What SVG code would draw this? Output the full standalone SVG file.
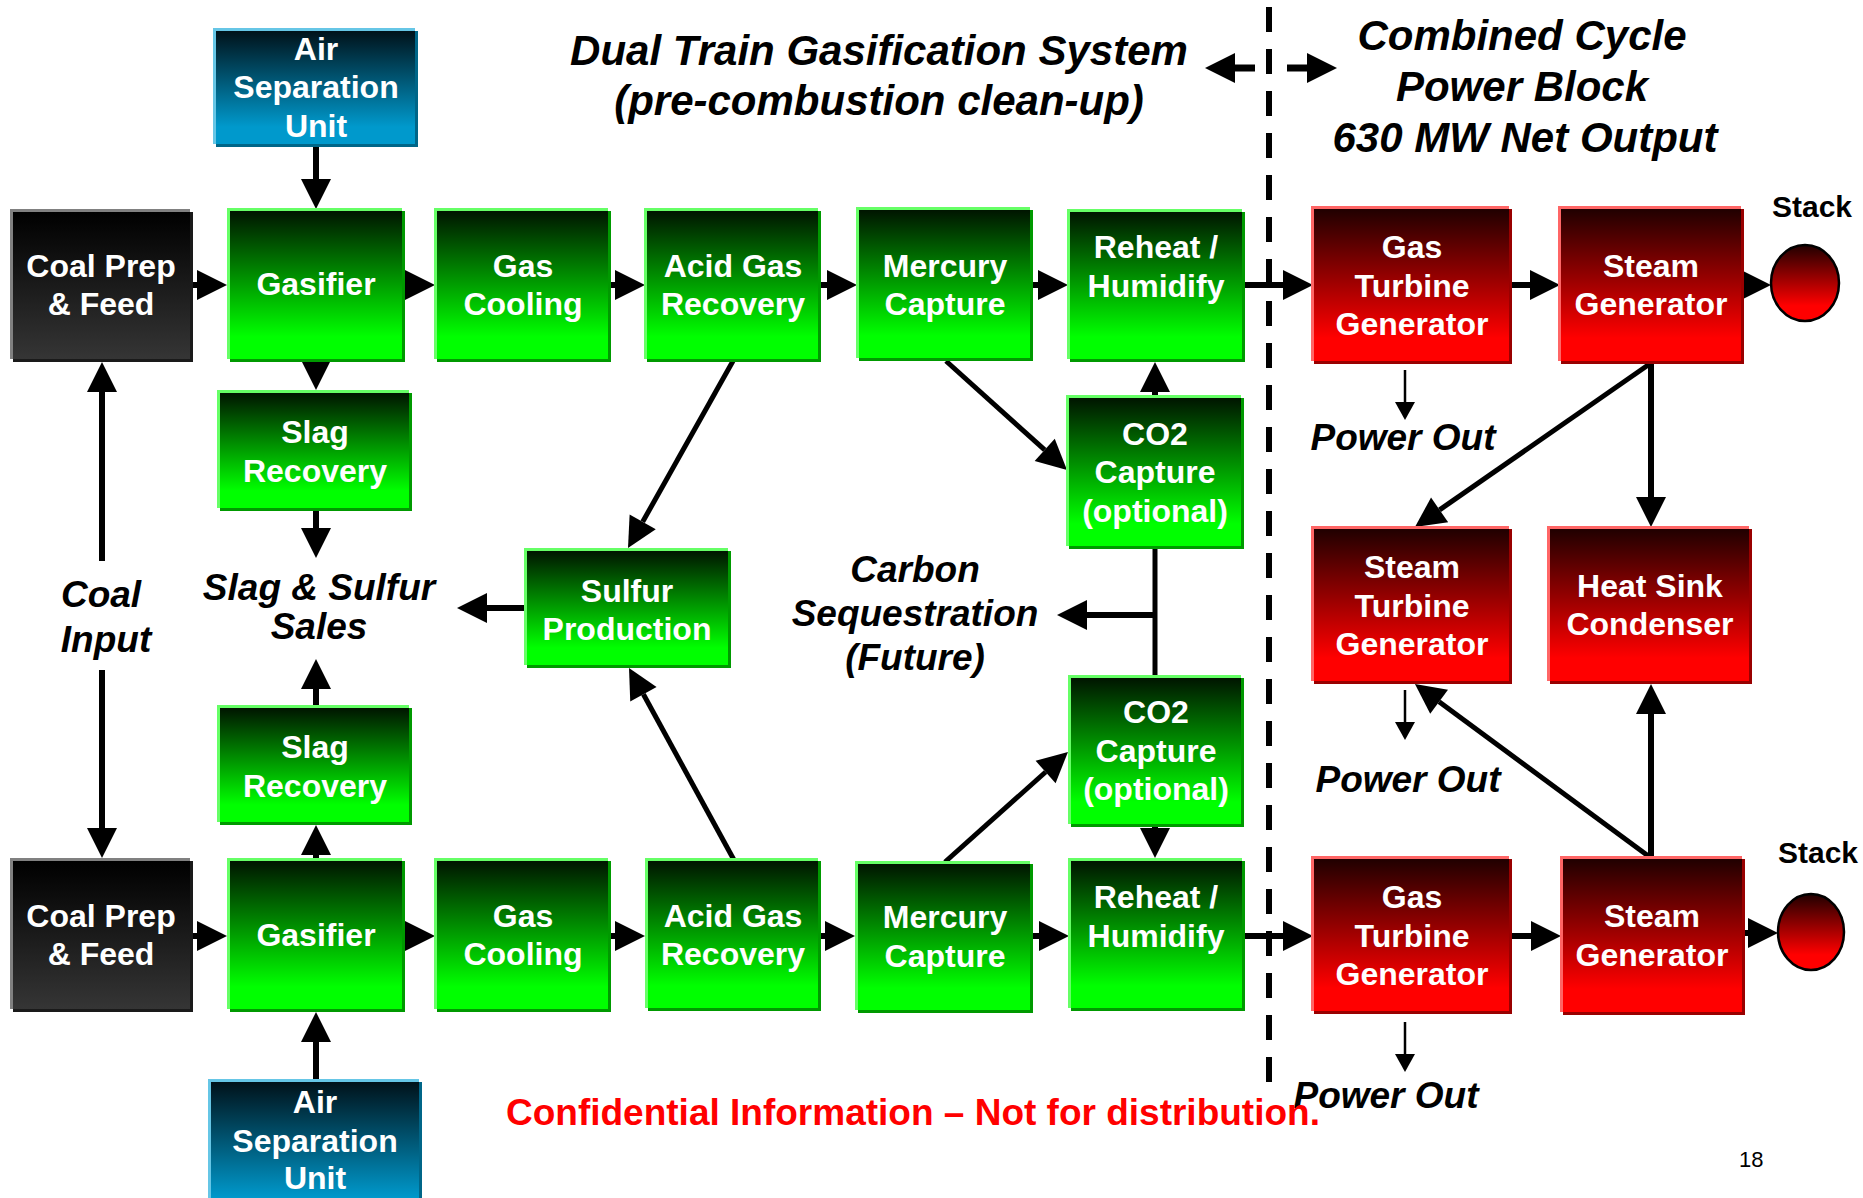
<svg xmlns="http://www.w3.org/2000/svg" width="1863" height="1198" viewBox="0 0 1863 1198">
<defs>
<linearGradient id="gG" x1="0" y1="0" x2="0" y2="1"><stop offset="0" stop-color="#001500"/><stop offset="0.85" stop-color="#00ff00"/><stop offset="1" stop-color="#00ff00"/></linearGradient>
<linearGradient id="gR" x1="0" y1="0" x2="0" y2="1"><stop offset="0" stop-color="#200000"/><stop offset="0.85" stop-color="#ff0000"/><stop offset="1" stop-color="#ff0000"/></linearGradient>
<linearGradient id="gK" x1="0" y1="0" x2="0" y2="1"><stop offset="0" stop-color="#000000"/><stop offset="1" stop-color="#353535"/></linearGradient>
<linearGradient id="gB" x1="0" y1="0" x2="0" y2="1"><stop offset="0" stop-color="#00121a"/><stop offset="0.85" stop-color="#0099cc"/><stop offset="1" stop-color="#0099cc"/></linearGradient>
<linearGradient id="gS" x1="0" y1="0" x2="0" y2="1"><stop offset="0" stop-color="#200000"/><stop offset="0.8" stop-color="#ff0000"/><stop offset="1" stop-color="#ff0000"/></linearGradient>
<marker id="ah" markerUnits="userSpaceOnUse" markerWidth="30" markerHeight="30" refX="0" refY="15" orient="auto" overflow="visible"><path d="M0,0 L30,15 L0,30 z" fill="#000"/></marker>
<marker id="as" markerUnits="userSpaceOnUse" markerWidth="18" markerHeight="20" refX="0" refY="10" orient="auto" overflow="visible"><path d="M0,0 L18,10 L0,20 z" fill="#000"/></marker>
</defs>
<style>
.nt{font-family:"Liberation Sans",Arial,sans-serif;font-weight:bold;font-size:32px;fill:#fff;text-anchor:middle}
.lb{font-family:"Liberation Sans",Arial,sans-serif;font-weight:bold;font-style:italic;font-size:37px;fill:#000;text-anchor:middle}
.ttl{font-family:"Liberation Sans",Arial,sans-serif;font-weight:bold;font-style:italic;font-size:42px;fill:#000;text-anchor:middle}
.green .hi{fill:#66ff66}.green .lo{fill:#009900}.green .body{fill:url(#gG)}
.red .hi{fill:#ff6666}.red .lo{fill:#990000}.red .body{fill:url(#gR)}
.black .hi{fill:#808080}.black .lo{fill:#1a1a1a}.black .body{fill:url(#gK)}
.blue .hi{fill:#66c6e6}.blue .lo{fill:#006688}.blue .body{fill:url(#gB)}
#connectors line{stroke:#000;stroke-width:6;fill:none}
#connectors .arr{marker-end:url(#ah)}
#connectors .dg{stroke-width:5}
#connectors .thin{stroke-width:2.5;marker-end:url(#as)}
.stack{fill:url(#gS);stroke:#000;stroke-width:2.5}
</style>
<rect x="0" y="0" width="1863" height="1198" fill="#fff"/>

<g id="connectors">
<line class="arr" x1="150" y1="285" x2="197" y2="285"/>
<line class="arr" x1="380" y1="285" x2="405" y2="285"/>
<line class="arr" x1="590" y1="285" x2="615" y2="285"/>
<line class="arr" x1="800" y1="285" x2="827" y2="285"/>
<line class="arr" x1="1010" y1="285" x2="1038" y2="285"/>
<line class="arr" x1="1200" y1="285" x2="1283" y2="285"/>
<line class="arr" x1="1480" y1="285" x2="1530" y2="285"/>
<line class="arr" x1="1720" y1="285" x2="1741" y2="285"/>
<line class="arr" x1="150" y1="936" x2="197" y2="936"/>
<line class="arr" x1="380" y1="936" x2="405" y2="936"/>
<line class="arr" x1="590" y1="936" x2="615" y2="936"/>
<line class="arr" x1="800" y1="936" x2="825" y2="936"/>
<line class="arr" x1="1010" y1="936" x2="1039" y2="936"/>
<line class="arr" x1="1200" y1="936" x2="1283" y2="936"/>
<line class="arr" x1="1480" y1="936" x2="1531" y2="936"/>
<line class="arr" x1="1720" y1="933" x2="1748" y2="933"/>
<line class="arr" x1="316" y1="100" x2="316" y2="179"/>
<line class="arr" x1="316" y1="340" x2="316" y2="360"/>
<line class="arr" x1="316" y1="480" x2="316" y2="528"/>
<line class="arr" x1="316" y1="740" x2="316" y2="689"/>
<line class="arr" x1="316" y1="900" x2="316" y2="855"/>
<line class="arr" x1="316" y1="1120" x2="316" y2="1042"/>
<line class="arr" x1="102" y1="561" x2="102" y2="392"/>
<line class="arr" x1="102" y1="670" x2="102" y2="828"/>
<line class="arr" x1="560" y1="608" x2="487" y2="608"/>
<line class="arr" x1="1155" y1="420" x2="1155" y2="392"/>
<line class="arr" x1="1155" y1="800" x2="1155" y2="828"/>
<line class="dg" x1="1155" y1="549" x2="1155" y2="675"/>
<line class="arr" x1="1155" y1="615" x2="1087" y2="615"/>
<line class="arr" x1="1651" y1="330" x2="1651" y2="497"/>
<line class="arr" x1="1651" y1="880" x2="1651" y2="714"/>
<line class="arr dg" x1="1651" y1="363" x2="1439.6" y2="509.9"/>
<line class="arr dg" x1="1651" y1="858" x2="1439.1" y2="701.8"/>
<line class="arr dg" x1="733" y1="361" x2="642.7" y2="521.8"/>
<line class="arr dg" x1="734" y1="860" x2="643.4" y2="694.3"/>
<line class="arr dg" x1="946" y1="361" x2="1044.7" y2="449.9"/>
<line class="arr dg" x1="945" y1="862" x2="1045.6" y2="772"/>
<line class="thin" x1="1405" y1="370" x2="1405" y2="402"/>
<line class="thin" x1="1405" y1="690" x2="1405" y2="722"/>
<line class="thin" x1="1405" y1="1022" x2="1405" y2="1054"/>
<line class="arr" x1="1255" y1="68" x2="1235" y2="68" style="stroke-width:7"/>
<line class="arr" x1="1287" y1="68" x2="1307" y2="68" style="stroke-width:7"/>
<line x1="1269" y1="7" x2="1269" y2="1082" style="stroke-width:6;stroke-dasharray:25 17"/>
</g>

<g id="asu-top" class="node blue"><rect class="hi" x="213" y="28" width="202" height="116"/><rect class="lo" x="216" y="31" width="202" height="116"/><rect class="body" x="216" y="31" width="199" height="113"/><text class="nt" x="316" y="60">Air</text><text class="nt" x="316" y="98">Separation</text><text class="nt" x="316" y="137">Unit</text></g>
<g id="coal-top" class="node black"><rect class="hi" x="10" y="209" width="180" height="150"/><rect class="lo" x="13" y="212" width="180" height="150"/><rect class="body" x="13" y="212" width="177" height="147"/><text class="nt" x="101" y="277">Coal Prep</text><text class="nt" x="101" y="315">&amp; Feed</text></g>
<g id="gasifier-top" class="node green"><rect class="hi" x="227" y="208" width="175" height="151"/><rect class="lo" x="230" y="211" width="175" height="151"/><rect class="body" x="230" y="211" width="172" height="148"/><text class="nt" x="316" y="295">Gasifier</text></g>
<g id="cooling-top" class="node green"><rect class="hi" x="434" y="208" width="174" height="151"/><rect class="lo" x="437" y="211" width="174" height="151"/><rect class="body" x="437" y="211" width="171" height="148"/><text class="nt" x="523" y="277">Gas</text><text class="nt" x="523" y="315">Cooling</text></g>
<g id="acid-top" class="node green"><rect class="hi" x="644" y="208" width="174" height="151"/><rect class="lo" x="647" y="211" width="174" height="151"/><rect class="body" x="647" y="211" width="171" height="148"/><text class="nt" x="733" y="277">Acid Gas</text><text class="nt" x="733" y="315">Recovery</text></g>
<g id="mercury-top" class="node green"><rect class="hi" x="856" y="207" width="174" height="151"/><rect class="lo" x="859" y="210" width="174" height="151"/><rect class="body" x="859" y="210" width="171" height="148"/><text class="nt" x="945" y="277">Mercury</text><text class="nt" x="945" y="315">Capture</text></g>
<g id="reheat-top" class="node green"><rect class="hi" x="1067" y="209" width="175" height="150"/><rect class="lo" x="1070" y="212" width="175" height="150"/><rect class="body" x="1070" y="212" width="172" height="147"/><text class="nt" x="1156" y="258">Reheat /</text><text class="nt" x="1156" y="297">Humidify</text></g>
<g id="gt-top" class="node red"><rect class="hi" x="1311" y="206" width="198" height="155"/><rect class="lo" x="1314" y="209" width="198" height="155"/><rect class="body" x="1314" y="209" width="195" height="152"/><text class="nt" x="1412" y="258">Gas</text><text class="nt" x="1412" y="297">Turbine</text><text class="nt" x="1412" y="335">Generator</text></g>
<g id="sg-top" class="node red"><rect class="hi" x="1558" y="206" width="183" height="155"/><rect class="lo" x="1561" y="209" width="183" height="155"/><rect class="body" x="1561" y="209" width="180" height="152"/><text class="nt" x="1651" y="277">Steam</text><text class="nt" x="1651" y="315">Generator</text></g>
<g id="stack-top" class="node"><ellipse class="stack" cx="1805" cy="283" rx="34" ry="38"/><text x="1772" y="217" style="font-family:'Liberation Sans',Arial,sans-serif;font-weight:bold;font-size:30px;fill:#000">Stack</text></g>
<g id="slag-top" class="node green"><rect class="hi" x="217" y="390" width="192" height="118"/><rect class="lo" x="220" y="393" width="192" height="118"/><rect class="body" x="220" y="393" width="189" height="115"/><text class="nt" x="315" y="443">Slag</text><text class="nt" x="315" y="482">Recovery</text></g>
<g id="sulfur" class="node green"><rect class="hi" x="524" y="548" width="204" height="117"/><rect class="lo" x="527" y="551" width="204" height="117"/><rect class="body" x="527" y="551" width="201" height="114"/><text class="nt" x="627" y="602">Sulfur</text><text class="nt" x="627" y="640">Production</text></g>
<g id="co2-top" class="node green"><rect class="hi" x="1066" y="395" width="175" height="151"/><rect class="lo" x="1069" y="398" width="175" height="151"/><rect class="body" x="1069" y="398" width="172" height="148"/><text class="nt" x="1155" y="445">CO2</text><text class="nt" x="1155" y="483">Capture</text><text class="nt" x="1155" y="522">(optional)</text></g>
<g id="co2-bot" class="node green"><rect class="hi" x="1068" y="675" width="173" height="149"/><rect class="lo" x="1071" y="678" width="173" height="149"/><rect class="body" x="1071" y="678" width="170" height="146"/><text class="nt" x="1156" y="723">CO2</text><text class="nt" x="1156" y="762">Capture</text><text class="nt" x="1156" y="800">(optional)</text></g>
<g id="stg" class="node red"><rect class="hi" x="1311" y="526" width="198" height="155"/><rect class="lo" x="1314" y="529" width="198" height="155"/><rect class="body" x="1314" y="529" width="195" height="152"/><text class="nt" x="1412" y="578">Steam</text><text class="nt" x="1412" y="617">Turbine</text><text class="nt" x="1412" y="655">Generator</text></g>
<g id="hsc" class="node red"><rect class="hi" x="1547" y="526" width="202" height="155"/><rect class="lo" x="1550" y="529" width="202" height="155"/><rect class="body" x="1550" y="529" width="199" height="152"/><text class="nt" x="1650" y="597">Heat Sink</text><text class="nt" x="1650" y="635">Condenser</text></g>
<g id="slag-bot" class="node green"><rect class="hi" x="217" y="705" width="192" height="117"/><rect class="lo" x="220" y="708" width="192" height="117"/><rect class="body" x="220" y="708" width="189" height="114"/><text class="nt" x="315" y="758">Slag</text><text class="nt" x="315" y="797">Recovery</text></g>
<g id="coal-bot" class="node black"><rect class="hi" x="10" y="858" width="180" height="151"/><rect class="lo" x="13" y="861" width="180" height="151"/><rect class="body" x="13" y="861" width="177" height="148"/><text class="nt" x="101" y="927">Coal Prep</text><text class="nt" x="101" y="965">&amp; Feed</text></g>
<g id="gasifier-bot" class="node green"><rect class="hi" x="227" y="858" width="175" height="151"/><rect class="lo" x="230" y="861" width="175" height="151"/><rect class="body" x="230" y="861" width="172" height="148"/><text class="nt" x="316" y="946">Gasifier</text></g>
<g id="cooling-bot" class="node green"><rect class="hi" x="434" y="858" width="174" height="151"/><rect class="lo" x="437" y="861" width="174" height="151"/><rect class="body" x="437" y="861" width="171" height="148"/><text class="nt" x="523" y="927">Gas</text><text class="nt" x="523" y="965">Cooling</text></g>
<g id="acid-bot" class="node green"><rect class="hi" x="645" y="858" width="173" height="150"/><rect class="lo" x="648" y="861" width="173" height="150"/><rect class="body" x="648" y="861" width="170" height="147"/><text class="nt" x="733" y="927">Acid Gas</text><text class="nt" x="733" y="965">Recovery</text></g>
<g id="mercury-bot" class="node green"><rect class="hi" x="855" y="861" width="175" height="149"/><rect class="lo" x="858" y="864" width="175" height="149"/><rect class="body" x="858" y="864" width="172" height="146"/><text class="nt" x="945" y="928">Mercury</text><text class="nt" x="945" y="967">Capture</text></g>
<g id="reheat-bot" class="node green"><rect class="hi" x="1068" y="858" width="174" height="150"/><rect class="lo" x="1071" y="861" width="174" height="150"/><rect class="body" x="1071" y="861" width="171" height="147"/><text class="nt" x="1156" y="908">Reheat /</text><text class="nt" x="1156" y="947">Humidify</text></g>
<g id="gt-bot" class="node red"><rect class="hi" x="1311" y="856" width="198" height="155"/><rect class="lo" x="1314" y="859" width="198" height="155"/><rect class="body" x="1314" y="859" width="195" height="152"/><text class="nt" x="1412" y="908">Gas</text><text class="nt" x="1412" y="947">Turbine</text><text class="nt" x="1412" y="985">Generator</text></g>
<g id="sg-bot" class="node red"><rect class="hi" x="1560" y="856" width="182" height="156"/><rect class="lo" x="1563" y="859" width="182" height="156"/><rect class="body" x="1563" y="859" width="179" height="153"/><text class="nt" x="1652" y="927">Steam</text><text class="nt" x="1652" y="966">Generator</text></g>
<g id="stack-bot" class="node"><ellipse class="stack" cx="1811" cy="932" rx="33" ry="38"/><text x="1778" y="863" style="font-family:'Liberation Sans',Arial,sans-serif;font-weight:bold;font-size:30px;fill:#000">Stack</text></g>
<g id="asu-bot" class="node blue"><rect class="hi" x="208" y="1079" width="211" height="140"/><rect class="lo" x="211" y="1082" width="211" height="140"/><rect class="body" x="211" y="1082" width="208" height="137"/><text class="nt" x="315" y="1113">Air</text><text class="nt" x="315" y="1152">Separation</text><text class="nt" x="315" y="1189">Unit</text></g>

<g id="labels">
<text class="ttl" x="879" y="65">Dual Train Gasification System</text>
<text class="ttl" x="879" y="115">(pre-combustion clean-up)</text>
<text class="ttl" x="1522" y="50">Combined Cycle</text>
<text class="ttl" x="1522" y="101">Power Block</text>
<text class="ttl" x="1525" y="152">630 MW Net Output</text>
<text class="lb" x="101" y="607">Coal</text>
<text class="lb" x="106" y="652">Input</text>
<text class="lb" x="319" y="600">Slag &amp; Sulfur</text>
<text class="lb" x="319" y="639">Sales</text>
<text class="lb" x="915" y="582">Carbon</text>
<text class="lb" x="915" y="626">Sequestration</text>
<text class="lb" x="915" y="670">(Future)</text>
<text class="lb" x="1403" y="450">Power Out</text>
<text class="lb" x="1408" y="792">Power Out</text>
<text class="lb" x="1386" y="1108">Power Out</text>
<text x="506" y="1125" style="font-family:'Liberation Sans',Arial,sans-serif;font-weight:bold;font-size:37px;fill:#ff0000">Confidential Information – Not for distribution.</text>
<text x="1739" y="1167" style="font-family:'Liberation Sans',Arial,sans-serif;font-size:22px;fill:#000">18</text>
</g>
</svg>
